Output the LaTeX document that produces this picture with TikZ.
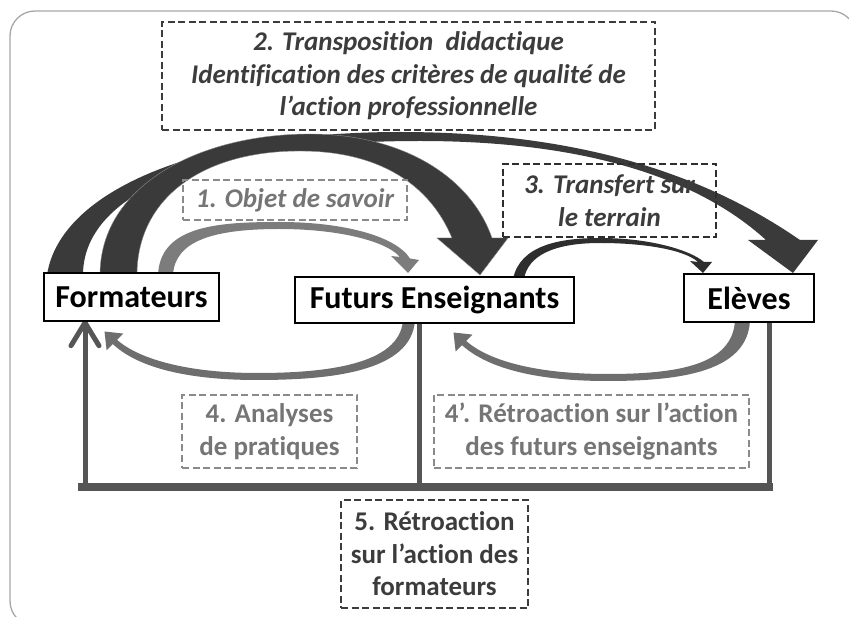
\documentclass[tikz,border=0pt]{standalone}
\usepackage{fontspec}
\setmainfont{Carlito}[RawFeature=-liga]
\usetikzlibrary{calc}
\pgfdeclarelayer{bg}
\pgfsetlayers{bg,main}

\definecolor{framegray}{HTML}{A6A6A6}
\definecolor{bigarrow}{HTML}{3A3A3A}
\definecolor{knowarrow}{HTML}{7C7C7C}
\definecolor{fieldarrow}{HTML}{2E2E2E}
\definecolor{backarrow}{HTML}{6E6E6E}
\definecolor{busgray}{HTML}{555555}
\definecolor{darklabel}{HTML}{3C3C3C}
\definecolor{midlabel}{HTML}{757575}
\definecolor{midborder}{HTML}{8A8A8A}

\begin{document}
\begin{tikzpicture}[x=1pt,y=-1pt,
  namebox/.style={draw=black, line width=1.4pt, fill=white, inner sep=0pt,
    font=\fontsize{32}{38}\selectfont\bfseries},
  dbox/.style={dash pattern=on 7pt off 3.5pt, line width=2pt, inner sep=0pt,
    align=center, font=\fontsize{27}{32.5}\selectfont\bfseries},
  dboxit/.style={dbox, font=\fontsize{27}{32.5}\selectfont\bfseries\itshape},
  bus/.style={draw=busgray, line width=5pt},
]
\useasboundingbox (0,0) rectangle (849,617);
\clip (0,0) rectangle (849,617);

% main actors
\node[namebox, minimum width=175pt, minimum height=48pt] (form) at (131.5,297) {Formateurs};
\node[namebox, minimum width=279pt, minimum height=46pt] (fe) at (434.5,300) {Futurs Enseignants};
\node[namebox, minimum width=130pt, minimum height=48pt] (el) at (749,298) {Elèves};

% dashed labels
\node[dboxit, draw=darklabel, text=darklabel, minimum width=493pt, minimum height=108pt] (transpo) at (408.5,76)
  {2. Transposition~ didactique\\Identification des critères de qualité de\\l’action professionnelle};
\node[dboxit, draw=midborder, text=midlabel, minimum width=224pt, minimum height=40pt] (objet) at (295,200)
  {1. Objet de savoir};
\node[dboxit, draw=fieldarrow, text=darklabel, minimum width=213pt, minimum height=73pt] (transf) at (609.5,200.5)
  {3. Transfert sur\\le terrain};
\node[dbox, draw=midborder, text=midlabel, minimum width=175pt, minimum height=73pt] (analyse) at (269.5,431.5)
  {4. Analyses\\de pratiques};
\node[dbox, draw=midborder, text=midlabel, minimum width=315pt, minimum height=73pt] (retro) at (591.5,431.5)
  {4’. Rétroaction sur l’action\\des futurs enseignants};
\node[dbox, draw=darklabel, text=darklabel, minimum width=187pt, minimum height=108pt] (retroform) at (434.5,554)
  {5. Rétroaction\\sur l’action des\\formateurs};

\begin{pgfonlayer}{bg}
  % slide frame
  \draw[framegray, line width=1.3pt, rounded corners=25pt] (10,11) rectangle (856,626);

  % 2: trainers -> pupils (outer band)
  \fill[bigarrow] (47,275) .. controls (60,190) and (200,132) .. (400,132)
    .. controls (600,132) and (720,185) .. (800,240) -- (818,240) -- (793,273) -- (748,240) -- (766,240)
    .. controls (700,180) and (590,141) .. (420,141)
    .. controls (200,141) and (83,195) .. (83,275) -- cycle;
  % 2: trainers -> future teachers (inner band)
  \filldraw[fill=bigarrow, draw=white!55!black, line width=0.4pt] (100,275) .. controls (100,185) and (200,134) .. (310,134)
    .. controls (400,134) and (470,175) .. (492,238) -- (508,238) -- (480,275) -- (437,238) -- (452,238)
    .. controls (430,185) and (380,151) .. (300,151)
    .. controls (200,151) and (137,200) .. (137,275) -- cycle;

  % 1: knowledge object
  \fill[knowarrow] (158,275) .. controls (160,225) and (220,222) .. (280,222)
    .. controls (340,222) and (395,235) .. (410,258.5) -- (419,260) -- (408,273) -- (391,256) -- (400,257)
    .. controls (385,240) and (335,229) .. (280,229)
    .. controls (215,229) and (175,240) .. (173,275) -- cycle;

  % 3: transfer to the field
  \fill[fieldarrow] (513,279) .. controls (520,245) and (560,238) .. (600,238)
    .. controls (650,238) and (690,250) .. (704,262) -- (712,262) -- (703,273) -- (690,261) -- (698,262)
    .. controls (685,250) and (645,243) .. (600,243)
    .. controls (555,243) and (528,255) .. (524,279) -- cycle;

  % 4: practice analysis
  \fill[backarrow] (415,320) .. controls (412,372) and (330,380) .. (257,380)
    .. controls (180,380) and (135,365) .. (112.9,344.1) -- (106.6,350.4) -- (104.5,331.5) -- (123.4,333.6) -- (117.1,339.9)
    .. controls (140,360) and (190,373) .. (257,373)
    .. controls (325,373) and (400,365) .. (403,320) -- cycle;

  % 4': feedback on the future teachers
  \fill[backarrow] (750,320) .. controls (748,372) and (680,381) .. (607,381)
    .. controls (530,381) and (485,366) .. (461.9,345.1) -- (455.6,351.4) -- (453.5,332.5) -- (472.4,334.6) -- (466.1,340.9)
    .. controls (490,362) and (540,374) .. (607,374)
    .. controls (675,374) and (733,366) .. (735,320) -- cycle;

  % 5: feedback on the trainers
  \coordinate (busL) at (85,487);
  \coordinate (busM) at (419,487);
  \coordinate (busR) at (769,487);
  \coordinate (ftip) at (form.south -| busL);
  \draw[bus] (fe.south -| busM) -- (busM);
  \draw[bus] (el.south -| busR) -- (busR);
  \draw[bus, line width=8pt] ([xshift=-7pt]busL) -- ([xshift=4pt]busR);
  \draw[bus] (busL) -- (ftip);
  \draw[bus, line cap=round, line join=miter] ([shift={(-14,24)}]ftip) -- ([yshift=-1pt]ftip) -- ([shift={(14,24)}]ftip);
\end{pgfonlayer}
\end{tikzpicture}
\end{document}
